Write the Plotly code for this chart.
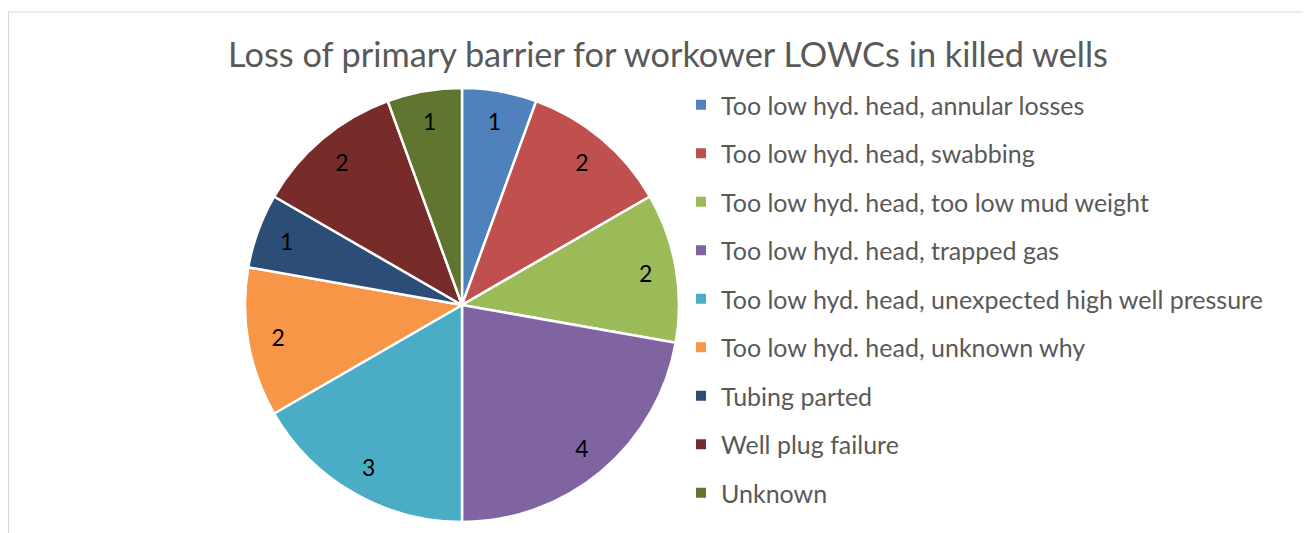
import plotly.graph_objects as go

title = "Loss of primary barrier for workower LOWCs in killed wells"
labels = [
    "Too low hyd. head, annular losses",
    "Too low hyd. head, swabbing",
    "Too low hyd. head, too low mud weight",
    "Too low hyd. head, trapped gas",
    "Too low hyd. head, unexpected high well pressure",
    "Too low hyd. head, unknown why",
    "Tubing parted",
    "Well plug failure",
    "Unknown",
]
values = [1, 2, 2, 4, 3, 2, 1, 2, 1]
colors = ["#4F81BD", "#C0504D", "#9BBB59", "#8064A2", "#4BACC6",
          "#F79646", "#2C4D75", "#772C2A", "#5F7530"]

# page body has an 8px margin; figure coordinates below are relative to the plot div
W, H = 1303, 525
FONT = "Lato"
pie_domain = dict(x=[237 / W, 671 / W], y=[1 - 514 / H, 1 - 80 / H])

fig = go.Figure()
# coloured slices
fig.add_trace(go.Pie(
    labels=labels, values=values, sort=False, direction="clockwise", rotation=0,
    marker=dict(colors=colors, line=dict(color="white", width=2.5)),
    textinfo="none", showlegend=False, hoverinfo="label+value",
    domain=pie_domain,
))
# transparent ring carrying the value labels near the rim
fig.add_trace(go.Pie(
    labels=labels, values=values, sort=False, direction="clockwise", rotation=0,
    hole=0.72,
    marker=dict(colors=["rgba(0,0,0,0)"] * len(values), line=dict(width=0)),
    textinfo="value", textposition="inside", insidetextorientation="horizontal",
    textfont=dict(family=FONT, size=23, color="black"),
    showlegend=False, hoverinfo="skip",
    domain=pie_domain,
))

for lab, col in zip(labels, colors):
    fig.add_trace(go.Scatter(
        x=[None], y=[None], mode="markers", name=lab, legendgroup=lab,
        marker=dict(symbol="square", size=10, color=col),
    ))

fig.update_layout(
    width=W, height=H,
    margin=dict(l=0, r=0, t=0, b=0),
    paper_bgcolor="white", plot_bgcolor="white",
    title=dict(text=title, x=660 / W, xanchor="center", y=1 - 47 / H, yanchor="middle",
               font=dict(family=FONT, size=34.3, color="#595959")),
    xaxis=dict(visible=False), yaxis=dict(visible=False),
    legend=dict(x=673 / W, y=1 - 74 / H, xanchor="left", yanchor="top",
                font=dict(family=FONT, size=25, color="#595959"),
                tracegroupgap=13, itemwidth=30, bgcolor="rgba(0,0,0,0)"),
    shapes=[dict(type="rect", xref="paper", yref="paper",
                 x0=0.5 / W, x1=1.2, y0=-0.2, y1=1 - 4 / H,
                 line=dict(color="#D9D9D9", width=1.2))],
)

fig.write_html("out.html")
